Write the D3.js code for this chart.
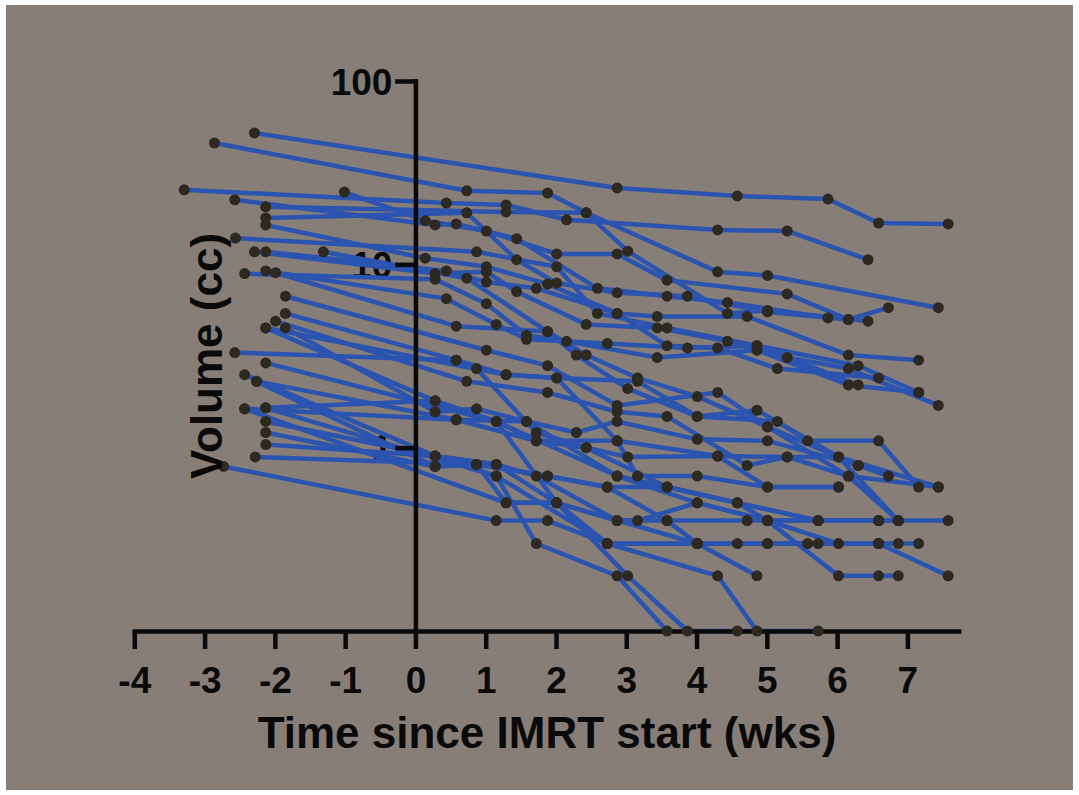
<!DOCTYPE html>
<html><head><meta charset="utf-8">
<script src="https://cdn.jsdelivr.net/npm/d3@7"></script>
<style>html,body{margin:0;padding:0;background:#fff;} svg{display:block;}</style>
</head><body>
<svg id="chart" width="1079" height="795"></svg>
<script>
// ---- tick labels ----
const weekTicks = [-4, -3, -2, -1, 0, 1, 2, 3, 4, 5, 6, 7];
const volumeTicks = [1, 10, 100];
const xTitle = "Time since IMRT start (wks)";
const yTitle = "Volume (cc)";

// ---- per-patient series: [weeks since IMRT start, volume cc] ----
const p01 = [[-2.29,52.1],[2.87,26.1],[4.58,23.6],[5.87,22.7],[6.59,16.8],[7.58,16.6]];
const p02 = [[-2.86,45.9],[0.73,25.2],[1.88,24.5],[2.43,19.1],[4.30,9.1],[5.01,8.7],[7.44,5.8]];
const p03 = [[-3.29,25.5],[0.44,21.6],[1.29,21.1],[2.15,17.5],[4.30,15.4],[5.29,15.2],[6.44,10.6]];
const p04 = [[-1.01,24.8],[0.14,17.3],[1.01,15.2],[2.01,11.4],[2.87,11.4],[3.58,8.2],[5.29,6.9],[6.16,5.0],[6.73,5.8]];
const p05 = [[-2.57,22.5],[0.28,16.4],[0.58,16.6],[1.44,13.8],[2.59,7.4],[3.58,6.7],[4.44,6.2],[5.87,5.1]];
const p06 = [[-2.13,20.6],[1.29,19.3],[2.43,19.1],[3.02,11.8],[4.44,5.4],[5.01,5.6],[6.44,4.9]];
const p07 = [[-2.13,17.9],[0.73,19.1],[1.44,10.6],[2.01,7.9],[2.87,7.0],[3.87,6.7],[5.01,5.5],[6.16,5.0]];
const p08 = [[-2.13,16.4],[0.14,10.8],[1.01,9.7],[1.88,7.8],[2.87,5.4],[3.44,5.2],[4.72,5.2],[6.16,3.2],[7.16,3.0]];
const p09 = [[-2.56,13.9],[0.87,11.7],[2.01,9.7],[2.59,5.4],[3.58,4.5],[4.86,3.6],[6.30,2.8],[7.16,2.0]];
const p10 = [[-2.29,11.7],[0.28,8.9],[1.01,9.1],[1.44,7.1],[2.43,4.7],[3.44,4.5],[4.44,3.8],[5.29,3.1],[6.16,2.7],[7.44,1.7]];
const p11 = [[-2.13,11.7],[0.44,9.2],[1.01,8.0],[1.72,7.4],[2.87,5.4],[3.58,3.6],[4.30,3.5],[5.15,2.7],[6.59,2.4]];
const p12 = [[-1.31,11.7],[0.73,8.4],[1.88,4.3],[2.43,3.2],[3.16,2.4],[4.01,1.9],[5.01,1.30],[6.16,0.70],[7.44,0.61]];
const p13 = [[-2.43,8.9],[0.28,8.3],[1.01,6.1],[1.58,4.1],[2.15,3.8],[3.44,3.1],[4.86,3.4],[6.16,2.2],[7.16,2.0]];
const p14 = [[-2.13,9.2],[0.44,6.5],[1.15,4.7],[1.58,3.9],[2.73,3.7],[3.87,3.5],[4.86,3.6],[6.30,2.2]];
const p15 = [[-1.99,9.0],[0.58,4.6],[1.88,4.3],[2.29,3.2],[3.02,2.1],[4.01,1.48],[4.86,1.6],[6.02,0.89],[6.87,0.40]];
const p16 = [[-1.85,6.7],[1.01,3.4],[1.88,2.8],[2.87,1.7],[4.30,2.0],[5.01,1.30],[6.30,0.80],[6.73,0.70]];
const p17 = [[-1.85,5.4],[0.58,3.0],[1.29,2.5],[2.01,2.4],[3.16,2.3],[4.01,1.48],[5.15,1.39],[5.58,1.09],[6.59,1.09],[7.16,0.61]];
const p18 = [[-1.99,4.9],[0.73,2.3],[1.88,2.0],[2.87,1.57],[3.58,1.48],[4.72,0.80],[5.29,0.89],[6.02,0.89],[7.44,0.61]];
const p19 = [[-2.13,4.5],[0.28,1.8],[1.15,1.39],[1.72,1.09],[2.87,1.09],[3.16,0.70],[4.01,0.70],[5.01,0.61],[6.02,0.61]];
const p20 = [[-1.85,4.5],[0.28,1.57],[0.87,1.63],[1.58,1.39],[2.29,1.21],[2.87,1.39],[4.01,1.11],[5.01,1.09],[6.30,0.80]];
const p21 = [[-2.57,3.3],[0.58,3.0],[0.87,2.7],[1.72,1.21],[2.43,1.0],[3.02,0.89],[4.30,0.90],[5.29,0.89],[6.16,0.70],[6.87,0.40]];
const p22 = [[-2.13,2.9],[1.15,1.39],[2.87,0.70],[3.58,0.61],[4.58,0.50],[5.73,0.40],[6.59,0.40],[6.87,0.40]];
const p23 = [[-2.43,2.5],[0.28,0.90],[1.15,0.81],[2.01,0.50],[2.87,0.40],[3.16,0.40],[4.01,0.50],[5.01,0.40],[5.73,0.40],[6.59,0.40],[7.58,0.40]];
const p24 = [[-2.26,2.3],[0.28,0.79],[0.87,0.81],[1.88,0.70],[2.73,0.61],[3.58,0.40],[4.01,0.30],[4.58,0.30],[5.01,0.30],[5.73,0.30],[6.59,0.30],[7.16,0.30]];
const p25 = [[-2.43,1.63],[0.58,1.42],[1.72,1.09],[2.43,1.0],[3.58,0.61],[4.58,0.50],[5.73,0.40]];
const p26 = [[-2.13,1.65],[0.28,1.8],[1.15,1.39],[2.01,0.50],[2.73,0.30],[4.01,0.30],[5.58,0.30],[6.59,0.30]];
const p27 = [[-2.13,1.39],[0.28,0.90],[1.15,0.81],[1.72,0.70],[2.87,0.40],[3.58,0.40],[4.72,0.40],[5.01,0.40],[6.59,0.40],[6.87,0.40]];
const p28 = [[-2.13,1.21],[0.28,0.79],[0.87,0.81],[1.88,0.70],[2.73,0.61],[3.58,0.61],[4.58,0.50],[5.01,0.40],[6.02,0.30],[6.87,0.30]];
const p29 = [[-2.13,1.04],[0.28,0.90],[1.15,0.70],[1.72,0.30],[2.87,0.20],[3.58,0.10]];
const p30 = [[-2.28,0.89],[0.87,0.81],[1.29,0.50],[2.01,0.50],[3.02,0.20],[3.87,0.10],[4.58,0.10],[5.73,0.10]];
const p31 = [[-2.73,0.79],[1.15,0.40],[1.88,0.40],[2.73,0.30],[4.30,0.20],[4.86,0.10]];
const p32 = [[-2.26,2.3],[0.58,1.42],[1.58,1.39],[2.87,0.70],[4.01,0.50],[5.01,0.40],[6.02,0.20],[6.59,0.20],[6.87,0.20]];
const p33 = [[-2.13,1.65],[1.15,0.70],[2.73,0.30],[4.01,0.30],[5.01,0.30],[6.59,0.30],[7.58,0.20]];
const p34 = [[-2.13,4.5],[1.29,2.5],[2.01,2.4],[2.87,1.09],[4.30,0.90],[5.01,0.61],[6.02,0.61]];
const p35 = [[-2.43,1.63],[1.29,0.50],[2.01,0.50],[4.01,0.30],[4.86,0.20]];

const patients = [p01,p02,p03,p04,p05,p06,p07,p08,p09,p10,p11,p12,p13,p14,p15,p16,p17,p18,
                  p19,p20,p21,p22,p23,p24,p25,p26,p27,p28,p29,p30,p31,p32,p33,p34,p35];

// ---- drawing ----
const FONT = "'Liberation Sans', Arial, Helvetica, sans-serif";
const BG = "#877e78", LINE = "#2b54b0", DOT = "#2e2920", INK = "#0a0a0a";
const svg = d3.select("#chart");
svg.append("rect").attr("x", 6).attr("y", 5).attr("width", 1067).attr("height", 785).attr("fill", BG);

const x = d3.scaleLinear().domain([-4, 7.73]).range([134.3, 958.7]);
const y = d3.scaleLog().domain([0.1, 100]).range([631, 81]);

// y tick labels sit underneath the data
const gyLab = svg.append("g").attr("transform", `translate(${x(0)},0)`)
  .call(d3.axisLeft(y).tickValues(volumeTicks).tickFormat(d => String(d)).tickSize(18).tickPadding(5));
gyLab.select(".domain").remove();
gyLab.selectAll(".tick line").remove();
gyLab.selectAll("text").attr("font-family", FONT).attr("font-weight", "bold")
  .attr("font-size", 37).attr("fill", INK).attr("dy", "0.36em");

// data
const line = d3.line().x(d => x(d[0])).y(d => y(d[1]));
svg.append("g").selectAll("path").data(patients).join("path")
  .attr("d", line).attr("fill", "none").attr("stroke", LINE)
  .attr("stroke-width", 4.5).attr("stroke-linejoin", "round").attr("stroke-linecap", "round");

// axes lines over the data
const gy = svg.append("g").attr("transform", `translate(${x(0)},0)`)
  .call(d3.axisLeft(y).tickValues(volumeTicks).tickFormat("").tickSize(18).tickSizeOuter(0));
gy.select(".domain").attr("stroke", INK).attr("stroke-width", 4.5).attr("stroke-linecap", "square");
gy.selectAll(".tick line").attr("stroke", INK).attr("stroke-width", 4.5).attr("stroke-linecap", "square");

const gx = svg.append("g").attr("transform", `translate(0,${y(0.1)})`)
  .call(d3.axisBottom(x).tickValues(weekTicks).tickFormat(d => String(d)).tickSize(18).tickSizeOuter(0));
gx.select(".domain").attr("stroke", INK).attr("stroke-width", 4.5).attr("stroke-linecap", "square");
gx.selectAll(".tick line").attr("stroke", INK).attr("stroke-width", 4.5);
gx.selectAll("text").attr("font-family", FONT).attr("font-weight", "bold")
  .attr("font-size", 37).attr("fill", INK).attr("y", 62).attr("dy", 0);

// dots
svg.append("g").selectAll("g").data(patients).join("g")
  .selectAll("circle").data(d => d).join("circle")
  .attr("cx", d => x(d[0])).attr("cy", d => y(d[1])).attr("r", 5.5).attr("fill", DOT);

// titles
svg.append("text").attr("x", 547).attr("y", 748).attr("text-anchor", "middle")
  .attr("font-family", FONT).attr("font-weight", "bold").attr("font-size", 44).attr("fill", INK)
  .text(xTitle);
svg.append("text").attr("transform", "translate(222,356) rotate(-90)").attr("text-anchor", "middle")
  .attr("font-family", FONT).attr("font-weight", "bold").attr("font-size", 44).attr("fill", INK)
  .text(yTitle);
</script>
</body></html>
